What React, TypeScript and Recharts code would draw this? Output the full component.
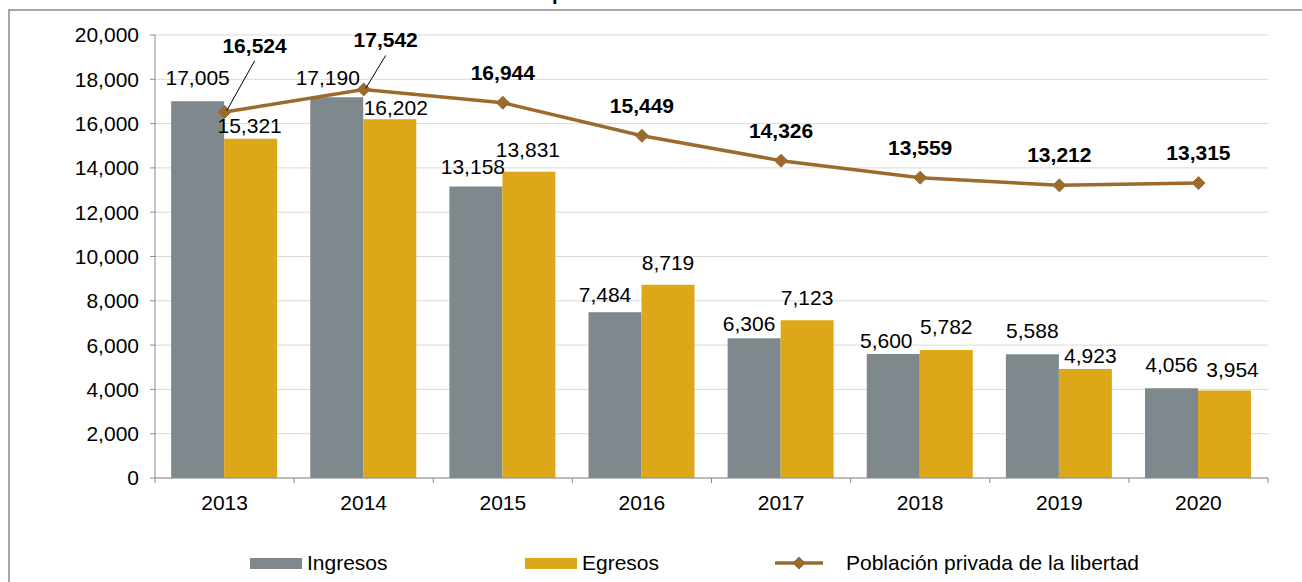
import {
  Bar,
  CartesianGrid,
  ComposedChart,
  LabelList,
  Legend,
  Line,
  XAxis,
  YAxis,
} from 'recharts'

const years = ['2013', '2014', '2015', '2016', '2017', '2018', '2019', '2020']
const ingresos = [17005, 17190, 13158, 7484, 6306, 5600, 5588, 4056]
const egresos = [15321, 16202, 13831, 8719, 7123, 5782, 4923, 3954]
const poblacion = [16524, 17542, 16944, 15449, 14326, 13559, 13212, 13315]
const yTicks = [0, 2000, 4000, 6000, 8000, 10000, 12000, 14000, 16000, 18000, 20000]

const data = years.map((year, i) => ({
  year,
  ingresos: ingresos[i],
  egresos: egresos[i],
  poblacion: poblacion[i],
}))

const GRAY = '#7f888d'
const GOLD = '#dca81a'
const BROWN = '#9a6b2d'
const AXIS = '#8c8c8c'
const FONT = '"Liberation Sans", Arial, sans-serif'

const fmt = (v: number) => Number(v).toLocaleString('en-US')

// hand-placed label nudges (as in the original, labels dodge each other)
const grayNudge = { dx: [0, -9, -3, -10, -5, -7, 0, 0], gap: [16, 12, 13, 10, 7, 6, 16, 16] }
const goldNudge = { dx: [-1, 6, -1, 0, 0, 0, 5, 8], gap: [6, 4, 15, 15, 15, 16, 6, 13] }

// line labels moved away from the point, with a leader line back to it
const leaderLabels: Record<number, { dx: number; dy: number }> = {
  0: { dx: 30, dy: 59 },
  1: { dx: 22, dy: 42 },
}

function makeBarLabel(nudge: { dx: number[]; gap: number[] }) {
  return function BarValueLabel(props: any) {
    const { x, y, width, value, index } = props
    return (
      <text
        x={x + width / 2 + nudge.dx[index]}
        y={y - nudge.gap[index]}
        textAnchor="middle"
        fontSize={21}
        fill="#000"
      >
        {fmt(value)}
      </text>
    )
  }
}

const GrayLabel = makeBarLabel(grayNudge)
const GoldLabel = makeBarLabel(goldNudge)

function LineValueLabel(props: any) {
  const { x, y, value, index } = props
  const lead = leaderLabels[index]
  const tx = x + (lead ? lead.dx : 0)
  const ty = y - (lead ? lead.dy : 23)
  return (
    <g>
      {lead && (
        <line x1={tx} y1={ty + 8} x2={x + 2} y2={y - 1} stroke="#000" strokeWidth={1} />
      )}
      <text x={tx} y={ty} textAnchor="middle" fontSize={21} fontWeight="bold" fill="#000">
        {fmt(value)}
      </text>
    </g>
  )
}

function Diamond({ cx, cy, r = 6.5 }: { cx: number; cy: number; r?: number }) {
  return (
    <path
      d={`M${cx},${cy - r} L${cx + r},${cy} L${cx},${cy + r} L${cx - r},${cy} Z`}
      fill={BROWN}
      stroke={BROWN}
    />
  )
}

function YearTick(props: any) {
  const { x, y, payload, index, width, visibleTicksCount } = props
  const half = width / visibleTicksCount / 2
  const axisY = y - 17
  return (
    <g>
      <line x1={x - half} y1={axisY} x2={x - half} y2={axisY + 5} stroke={AXIS} />
      {index === visibleTicksCount - 1 && (
        <line x1={x + half} y1={axisY} x2={x + half} y2={axisY + 5} stroke={AXIS} />
      )}
      <text x={x} y={y} dy="0.71em" textAnchor="middle" fontSize={21} fill="#000">
        {payload.value}
      </text>
    </g>
  )
}

function ChartLegend() {
  const items = [
    { left: 250, label: 'Ingresos', color: GRAY, kind: 'rect' },
    { left: 525, label: 'Egresos', color: GOLD, kind: 'rect' },
    { left: 775, label: 'Población privada de la libertad', color: BROWN, kind: 'line' },
  ]
  return (
    <div style={{ position: 'relative', width: 1302, height: 30 }}>
      {items.map((item) => (
        <div
          key={item.label}
          style={{
            position: 'absolute',
            left: item.left,
            top: 0,
            height: 30,
            display: 'flex',
            alignItems: 'center',
            fontSize: 21,
            color: '#000',
          }}
        >
          {item.kind === 'rect' ? (
            <span
              style={{
                display: 'inline-block',
                width: 52,
                height: 11,
                background: item.color,
                marginRight: 5,
              }}
            />
          ) : (
            <svg width={48} height={16} style={{ marginRight: 23 }}>
              <line x1={0} y1={8} x2={48} y2={8} stroke={BROWN} strokeWidth={3.5} />
              <Diamond cx={24} cy={8} r={6} />
            </svg>
          )}
          <span>{item.label}</span>
        </div>
      ))}
    </div>
  )
}

export default function App() {
  return (
    <div
      style={{
        position: 'absolute',
        left: 0,
        top: 0,
        width: 1302,
        height: 582,
        overflow: 'hidden',
        background: '#fff',
        fontFamily: FONT,
      }}
    >
      <div
        style={{
          position: 'absolute',
          left: 8,
          top: 9,
          width: 1400,
          height: 700,
          borderTop: '2px solid #a6a6a6',
          borderLeft: '2px solid #a6a6a6',
        }}
      />
      <div
        style={{
          position: 'absolute',
          left: 552,
          top: -17,
          fontSize: 20,
          lineHeight: '20px',
          fontWeight: 'bold',
          color: '#000',
        }}
      >
        p
      </div>
      <ComposedChart
        width={1302}
        height={582}
        data={data}
        margin={{ top: 35, right: 34, left: 0, bottom: 34 }}
        barCategoryGap="11.6%"
        barGap={0}
      >
        <CartesianGrid vertical={false} stroke="#d9d9d9" />
        <XAxis
          dataKey="year"
          height={40}
          axisLine={{ stroke: AXIS }}
          tickLine={false}
          tickSize={5}
          tickMargin={12}
          tick={<YearTick />}
          interval={0}
        />
        <YAxis
          width={155}
          domain={[0, 20000]}
          ticks={yTicks}
          interval={0}
          tickFormatter={fmt}
          axisLine={{ stroke: AXIS }}
          tickLine={{ stroke: AXIS }}
          tickSize={5}
          tickMargin={11}
          tick={{ fontSize: 21, fill: '#000' }}
        />
        <Legend verticalAlign="bottom" content={<ChartLegend />} wrapperStyle={{ left: 0, bottom: 4, width: 1302 }} />
        <Bar dataKey="ingresos" name="Ingresos" fill={GRAY} isAnimationActive={false}>
          <LabelList dataKey="ingresos" content={<GrayLabel />} />
        </Bar>
        <Bar dataKey="egresos" name="Egresos" fill={GOLD} isAnimationActive={false}>
          <LabelList dataKey="egresos" content={<GoldLabel />} />
        </Bar>
        <Line
          dataKey="poblacion"
          name="Población privada de la libertad"
          stroke={BROWN}
          strokeWidth={3.5}
          dot={(p: any) => <Diamond key={`d${p.index}`} cx={p.cx} cy={p.cy} />}
          activeDot={false}
          isAnimationActive={false}
        >
          <LabelList dataKey="poblacion" content={<LineValueLabel />} />
        </Line>
      </ComposedChart>
    </div>
  )
}
